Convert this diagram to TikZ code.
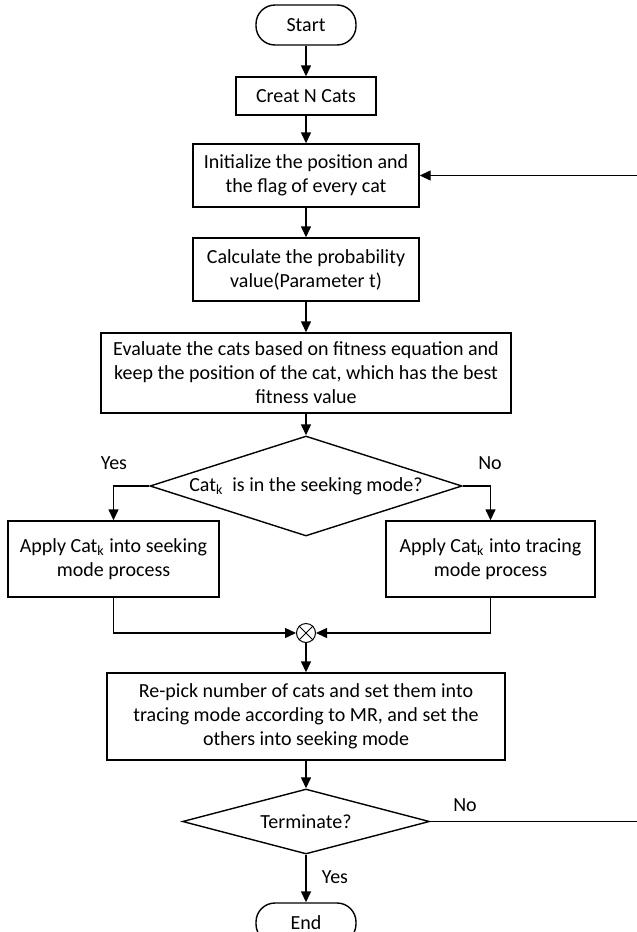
\documentclass[tikz,border=0pt]{standalone}
\usepackage{fontspec}
\setmainfont{Carlito}
\usetikzlibrary{shapes.geometric, arrows.meta, positioning}
\tikzset{
  terminal/.style={rectangle, rounded corners=9.5pt, minimum width=50pt, minimum height=20pt, text centered, draw=black, line width=0.7pt},
  process/.style={rectangle, align=center, text centered, draw=black, line width=0.7pt, inner sep=2pt},
  decision/.style={diamond, aspect=3.1, inner sep=0pt, text centered, draw=black, line width=0.7pt},
  junction/.style={circle, minimum size=9.5pt, inner sep=0pt, draw=black, line width=0.5pt},
  arrow/.style={line width=0.7pt,-{Triangle[length=5.5pt,width=5pt]}},
  lbl/.style={inner sep=0pt}
}
\begin{document}
\begin{tikzpicture}[x=0.5pt, y=-0.5pt, every node/.style={font=\fontsize{10}{12}\selectfont}]
\useasboundingbox (0,0) rectangle (637,932);
% main column
\node[terminal] (start) at (306,25) {Start};
\node[process, minimum width=70pt, minimum height=19pt] (creat) at (306,96) {Creat N Cats};
\node[process, minimum width=113pt, minimum height=31.5pt] (init) at (306,175.5) {Initialize the position and\\the flag of every cat};
\node[process, minimum width=113pt, minimum height=31.5pt] (calc) at (306,269.5) {Calculate the probability\\value(Parameter t)};
\node[process, minimum width=205pt, minimum height=40pt] (eval) at (306,373) {Evaluate the cats based on fitness equation and\\keep the position of the cat, which has the best\\fitness value};
\node[decision, minimum width=156pt, minimum height=50pt] (mode) at (306,486) {Cat\textsubscript{k}~ is in the seeking mode?};
% two branches
\node[process, minimum width=105.5pt, minimum height=38pt] (seek) at (113.5,559) {Apply Cat\textsubscript{k} into seeking\\mode process};
\node[process, minimum width=104.5pt, minimum height=38pt] (trace) at (490.5,559) {Apply Cat\textsubscript{k} into tracing\\mode process};
\node[junction] (merge) at (306,633) {};
\draw[line width=0.5pt] (merge.north west) -- (merge.south east) (merge.north east) -- (merge.south west);
\node[process, minimum width=199pt, minimum height=43.5pt] (repick) at (306,716.5) {Re-pick number of cats and set them into\\tracing mode according to MR, and set the\\others into seeking mode};
\node[decision, aspect=3.8, minimum width=123.5pt, minimum height=32.5pt] (term) at (306,821.5) {Terminate?};
\node[terminal] (end) at (306,923) {End};
\coordinate (loop) at (640,500);
% labels
\node[lbl] (yes1) at (114,463) {Yes};
\node[lbl] (no1) at (490,463) {No};
\node[lbl] (no2) at (465,805) {No};
\node[lbl] (yes2) at (335,877) {Yes};

\draw[arrow] (start) -- (creat);
\draw[arrow] (creat) -- (init);
\draw[arrow] (init) -- (calc);
\draw[arrow] (calc) -- (eval);
\draw[arrow] (eval) -- (mode);
\draw[arrow] (mode.west) -| (seek.north);
\draw[arrow] (mode.east) -| (trace.north);
\draw[arrow] (seek.south) |- (merge.west);
\draw[arrow] (trace.south) |- (merge.east);
\draw[arrow] (merge) -- (repick);
\draw[arrow] (repick) -- (term);
\draw[arrow] (term) -- (end);
\draw[arrow] (term.east) -| (loop) |- (init.east);
\end{tikzpicture}
\end{document}
